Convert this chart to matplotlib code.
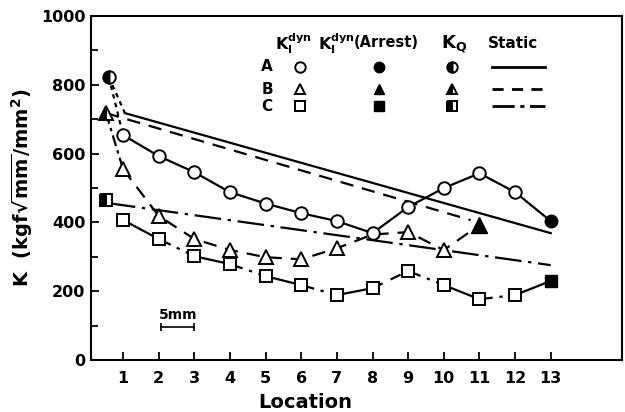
import matplotlib
matplotlib.use("Agg")
import matplotlib.pyplot as plt
from matplotlib.ticker import MultipleLocator

plt.rcParams['font.family'] = ['DejaVu Sans']
plt.rcParams['font.weight'] = 'bold'
plt.rcParams['mathtext.fontset'] = 'dejavusans'
plt.rcParams['mathtext.default'] = 'bf'

# ---------------- data ----------------
loc = [1, 2, 3, 4, 5, 6, 7, 8, 9, 10, 11, 12, 13]

# Series A (circles)
A_kq_x, A_kq_y = 0.6, 823
A_dyn = [654, 593, 546, 488, 455, 427, 404, 369, 445, 500, 543, 488]   # locations 1..12
A_arrest_x, A_arrest_y = 13, 404

# Series B (triangles)
B_kq_x, B_kq_y = 0.52, 718
B_loc = [1, 2, 3, 4, 5, 6, 7, 8, 9, 10]
B_dyn = [555, 419, 352, 320, 299, 293, 325, 365, 372, 320]
B_arrest_x, B_arrest_y = 11, 392

# Series C (squares)
C_kq_x, C_kq_y = 0.52, 465
C_dyn = [407, 352, 302, 279, 244, 218, 189, 209, 259, 218, 177, 189]   # locations 1..12
C_arrest_x, C_arrest_y = 13, 230

# Static lines (start, end)
A_static_x, A_static_y = [1.05, 13], [718, 369]
B_static_x, B_static_y = [0.52, 10.75], [718, 407]
C_static_x, C_static_y = [0.6, 13], [456, 276]

yticks = [0, 200, 400, 600, 800, 1000]
xticks = loc

# ---------------- figure ----------------
fig = plt.figure(figsize=(6.25, 4.12), dpi=100)
ax = fig.add_axes([0.1456, 0.126, 0.8496, 0.835])
ax.set_xlim(0.1, 15.0)
ax.set_ylim(0, 1000)

lw = 1.6
ms = 9
k = 'black'

# static lines
ax.plot(A_static_x, A_static_y, color=k, lw=lw, ls='-')
ax.plot(B_static_x, B_static_y, color=k, lw=lw, ls=(0, (6, 4)))
ax.plot(C_static_x, C_static_y, color=k, lw=lw, ls=(0, (12, 3, 1.5, 3)))

# connectors from KQ points
ax.plot([A_kq_x, A_static_x[0]], [A_kq_y, A_static_y[0]], color=k, lw=lw, ls=(0, (2, 2)))
ax.plot([A_kq_x, loc[0]], [A_kq_y, A_dyn[0]], color=k, lw=lw, ls=(0, (2, 2)))
ax.plot([B_kq_x, B_loc[0]], [B_kq_y, B_dyn[0]], color=k, lw=lw, ls=(0, (5, 2, 1.5, 2)))

# series A
ax.plot(loc[:12] + [A_arrest_x], A_dyn + [A_arrest_y], color=k, lw=lw, ls='-', zorder=2)
ax.plot(loc[:12], A_dyn, ls='none', marker='o', ms=ms, mfc='white', mec=k, mew=1.4, zorder=4)
ax.plot([A_arrest_x], [A_arrest_y], ls='none', marker='o', ms=ms, mfc=k, mec=k, zorder=4)
ax.plot([A_kq_x], [A_kq_y], ls='none', marker='o', ms=ms, fillstyle='left',
        mfc=k, mfcalt='white', mec=k, mew=1.4, zorder=4)

# series B
ax.plot(B_loc + [B_arrest_x], B_dyn + [B_arrest_y], color=k, lw=lw, ls=(0, (6, 4)), zorder=2)
B_mark_x = [x for x in B_loc if x != 8]
B_mark_y = [y for x, y in zip(B_loc, B_dyn) if x != 8]
ax.plot(B_mark_x, B_mark_y, ls='none', marker='^', ms=ms + 1, mfc='white', mec=k, mew=1.4, zorder=3)
ax.plot([B_arrest_x], [B_arrest_y], ls='none', marker='^', ms=ms + 2, mfc=k, mec=k, zorder=4)
ax.plot([B_kq_x], [B_kq_y], ls='none', marker='^', ms=ms + 1, fillstyle='left',
        mfc=k, mfcalt='white', mec=k, mew=1.4, zorder=4)

# series C (segment styles vary)
C_x = loc
C_y = C_dyn + [C_arrest_y]
seg_styles = ['-', (0, (6, 3, 1.5, 3)), '-', (0, (6, 3, 1.5, 3)), '-', (0, (6, 3, 1.5, 3)),
              '-', (0, (5, 4)), (0, (6, 3, 1.5, 3)), '-', (0, (6, 3, 1.5, 3)), '-']
for i in range(len(C_x) - 1):
    ax.plot(C_x[i:i + 2], C_y[i:i + 2], color=k, lw=lw, ls=seg_styles[i], zorder=2)
ax.plot(loc[:12], C_dyn, ls='none', marker='s', ms=ms - 1, mfc='white', mec=k, mew=1.4, zorder=4)
ax.plot([C_arrest_x], [C_arrest_y], ls='none', marker='s', ms=ms - 1, mfc=k, mec=k, zorder=4)
ax.plot([C_kq_x], [C_kq_y], ls='none', marker='s', ms=ms - 1, fillstyle='left',
        mfc=k, mfcalt='white', mec=k, mew=1.4, zorder=4)

# ---------------- in-plot legend ----------------
hy = 921
rows_y = [852, 788, 738]
fs = 11
ax.text(5.77, hy, r'$K_I^{dyn}$', ha='center', va='center', fontsize=11.5)
ax.text(6.47, hy, r'$K_I^{dyn}$', ha='left', va='center', fontsize=11.5)
ax.text(7.47, hy + 3, '(Arrest)', ha='left', va='center', fontsize=10.5)
ax.text(10.3, hy, r'$K_Q$', ha='center', va='center', fontsize=13)
ax.text(11.95, hy, 'Static', ha='center', va='center', fontsize=11)
lms = 7.5
markers = ['o', '^', 's']
static_ls = ['-', (0, (4, 3)), (0, (8, 2, 1.5, 2))]
for lab, yy, mk, sls in zip(['A', 'B', 'C'], rows_y, markers, static_ls):
    ax.text(5.04, yy, lab, ha='center', va='center', fontsize=fs)
    ax.plot([5.97], [yy], marker=mk, ms=lms, mfc='white', mec=k, mew=1.4, ls='none')
    ax.plot([8.19], [yy], marker=mk, ms=lms, mfc=k, mec=k, ls='none')
    ax.plot([10.24], [yy], marker=mk, ms=lms, fillstyle='left', mfc=k, mfcalt='white',
            mec=k, mew=1.4, ls='none')
    ax.plot([11.36, 12.85], [yy, yy], color=k, lw=2, ls=sls)

# scale bar
ax.text(2.54, 131, '5mm', ha='center', va='center', fontsize=10)
ax.plot([2.06, 3.0], [96, 96], color=k, lw=1.2, marker='|', ms=6, mew=1.2)

# ---------------- axes styling ----------------
ax.set_xticks(xticks)
ax.set_yticks(yticks)
ax.yaxis.set_minor_locator(MultipleLocator(100))
ax.tick_params(which='both', direction='in', width=1.3, labelsize=11.5)
ax.tick_params(which='major', length=6)
ax.tick_params(which='minor', length=5)
ax.tick_params(axis='x', pad=8)
ax.tick_params(axis='y', pad=4)
for lbl in ax.get_xticklabels() + ax.get_yticklabels():
    lbl.set_fontweight('bold')
for s in ax.spines.values():
    s.set_linewidth(1.5)

ax.set_xlabel('Location', fontsize=14, fontweight='bold')
ax.xaxis.set_label_coords(0.403, -0.095)
ax.set_ylabel(r'K  (kgf$\sqrt{mm}$/mm$^2$)', fontsize=14, fontweight='bold')
ax.yaxis.set_label_coords(-0.105, 0.5)

fig.savefig('out.png', dpi=100)
